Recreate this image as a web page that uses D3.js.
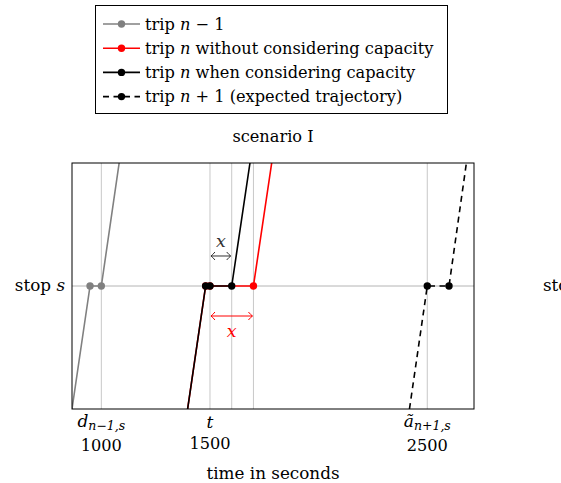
<!DOCTYPE html>
<html>
<head>
<meta charset="utf-8">
<script src="https://cdn.jsdelivr.net/npm/d3@7"></script>
<style>
body{margin:0;background:#fff;}
text{font-family:"DejaVu Serif",serif;}
.math{font-style:italic;}
</style>
</head>
<body>
<svg id="chart"></svg>
<script>
const width=561;
const height=483;

// trajectories: [time, position]  (-1 = before stop, 0 = stop s, 1 = after stop)
const tripPrev=[[865,-1],[948,0],[1000,0],[1082,1]];
const tripPrevDots=[948,1000];
const tripNoCap=[[1397,-1],[1480,0],[1500,0],[1700,0],[1784,1]];
const tripNoCapDots=[1480,1500,1700];
const tripCap=[[1397,-1],[1480,0],[1500,0],[1600,0],[1684,1]];
const tripCapDots=[1480,1500,1600];
const tripNext=[[2418,-1],[2500,0],[2600,0],[2680,1]];
const tripNextDots=[2500,2600];

const gridTimes=[1000,1500,1600,1700,2500];
const tickValues=[1000,1500,2500];
const tickLabels=['1000','1500','2500'];

const legendLabels=['trip n − 1','trip n without considering capacity','trip n when considering capacity','trip n + 1 (expected trajectory)'];

const margin={left:72,right:87,top:163,bottom:74};
const fs=16.2;

const svg=d3.select('#chart')
  .attr('width',width)
  .attr('height',height);

const x=d3.scaleLinear()
  .domain([865,2715])
  .range([margin.left,width-margin.right]);

const y=d3.scaleLinear()
  .domain([-1,1])
  .range([height-margin.bottom,margin.top]);

const defs=svg.append('defs');
defs.append('clipPath').attr('id','plotclip')
  .append('rect')
  .attr('x',x.range()[0]).attr('y',y.range()[1])
  .attr('width',x.range()[1]-x.range()[0])
  .attr('height',y.range()[0]-y.range()[1]);

function arrowMarker(id,color){
  defs.append('marker')
    .attr('id',id)
    .attr('viewBox','-6 -6 12 12')
    .attr('refX',0).attr('refY',0)
    .attr('markerWidth',12).attr('markerHeight',12)
    .attr('markerUnits','userSpaceOnUse')
    .attr('orient','auto-start-reverse')
    .append('path')
    .attr('d','M-4,-4 Q-1.5,-1 0,0 Q-1.5,1 -4,4')
    .attr('fill','none')
    .attr('stroke',color)
    .attr('stroke-width',1);
}
arrowMarker('arrBlack','#333');
arrowMarker('arrRed','red');

// grid
svg.append('g').selectAll('line')
  .data(gridTimes)
  .enter().append('line')
  .attr('x1',d=>x(d)).attr('x2',d=>x(d))
  .attr('y1',y(-1)).attr('y2',y(1))
  .attr('stroke','#c8c8c8')
  .attr('stroke-width',1);

svg.append('line')
  .attr('x1',x.range()[0]).attr('x2',x.range()[1])
  .attr('y1',y(0)).attr('y2',y(0))
  .attr('stroke','#b4b4b4')
  .attr('stroke-width',1);

const line=d3.line().x(d=>x(d[0])).y(d=>y(d[1]));
const plot=svg.append('g').attr('clip-path','url(#plotclip)');

function drawTrip(pts,dots,color,dash){
  plot.append('path')
    .datum(pts)
    .attr('d',line)
    .attr('fill','none')
    .attr('stroke',color)
    .attr('stroke-width',1.6)
    .attr('stroke-dasharray',dash||null);
  plot.selectAll(null)
    .data(dots)
    .enter().append('circle')
    .attr('cx',d=>x(d))
    .attr('cy',y(0))
    .attr('r',3.7)
    .attr('fill',color);
}

drawTrip(tripPrev,tripPrevDots,'gray');
drawTrip(tripNoCap,tripNoCapDots,'red');
drawTrip(tripCap,tripCapDots,'black');
drawTrip(tripNext,tripNextDots,'black','6,4.5');

// frame
svg.append('rect')
  .attr('x',x.range()[0]).attr('y',y.range()[1])
  .attr('width',x.range()[1]-x.range()[0])
  .attr('height',y.range()[0]-y.range()[1])
  .attr('fill','none')
  .attr('stroke','black')
  .attr('stroke-width',1);

// x annotations
const annotations=[{from:1500,to:1600,pos:0.244,lab:0.36,color:'#333',marker:'arrBlack'},
                   {from:1500,to:1700,pos:-0.244,lab:-0.37,color:'red',marker:'arrRed'}];
annotations.forEach(a=>{
  svg.append('line')
    .attr('x1',x(a.from)+1).attr('x2',x(a.to)-1)
    .attr('y1',y(a.pos)).attr('y2',y(a.pos))
    .attr('stroke',a.color)
    .attr('stroke-width',1)
    .attr('marker-start','url(#'+a.marker+')')
    .attr('marker-end','url(#'+a.marker+')');
  svg.append('text')
    .attr('class','math')
    .attr('x',(x(a.from)+x(a.to))/2)
    .attr('y',y(a.lab)+5)
    .attr('text-anchor','middle')
    .attr('font-size',17.5)
    .attr('fill',a.color)
    .text('x');
});

// x tick labels
const mathLabels=[{base:'d',sub:'n−1,s',y:427},{base:'t',sub:'',y:428},{base:'ã',sub:'n+1,s',y:427}];
const numY=[451,449,451];
tickValues.forEach((v,i)=>{
  const t=svg.append('text')
    .attr('class','math')
    .attr('x',x(v))
    .attr('y',mathLabels[i].y)
    .attr('text-anchor','middle')
    .attr('font-size',17);
  t.append('tspan').text(mathLabels[i].base);
  if(mathLabels[i].sub){
    t.append('tspan').attr('dy',3).attr('font-size',12.5).text(mathLabels[i].sub);
  }
  svg.append('text')
    .attr('x',x(v))
    .attr('y',numY[i])
    .attr('text-anchor','middle')
    .attr('font-size',fs)
    .text(tickLabels[i]);
});

svg.append('text')
  .attr('x',(x.range()[0]+x.range()[1])/2)
  .attr('y',479)
  .attr('text-anchor','middle')
  .attr('font-size',fs+0.6)
  .text('time in seconds');

svg.append('text')
  .attr('x',(x.range()[0]+x.range()[1])/2)
  .attr('y',142)
  .attr('text-anchor','middle')
  .attr('font-size',fs)
  .text('scenario I');

// stop labels (second one belongs to the next panel, cut off)
[{x:65,anchor:'end'},{x:543,anchor:'start'}].forEach(s=>{
  const t=svg.append('text')
    .attr('x',s.x)
    .attr('y',y(0)+5)
    .attr('text-anchor',s.anchor)
    .attr('font-size',fs+0.6);
  t.append('tspan').text('stop ');
  t.append('tspan').attr('class','math').text('s');
});

// legend
const legend=svg.append('g');
legend.append('rect')
  .attr('x',95.5).attr('y',5.5)
  .attr('width',352).attr('height',108)
  .attr('fill','white')
  .attr('stroke','black')
  .attr('stroke-width',1);

const legendColors=['gray','red','black','black'];
const legendDash=[null,null,null,'6,4.5'];
const legendElem=legend.selectAll('g')
  .data(legendLabels)
  .enter().append('g')
  .attr('transform',(d,i)=>'translate(0,'+(24+i*24.2)+')');

legendElem.append('line')
  .attr('x1',103).attr('x2',140)
  .attr('stroke',(d,i)=>legendColors[i])
  .attr('stroke-width',1.6)
  .attr('stroke-dasharray',(d,i)=>legendDash[i]);
legendElem.append('circle')
  .attr('cx',121.5).attr('r',3.7)
  .attr('fill',(d,i)=>legendColors[i]);

legendElem.append('text')
  .attr('x',145)
  .attr('y',5.5)
  .attr('font-size',fs)
  .each(function(d){
    const parts=d.split(' n');
    const t=d3.select(this);
    t.append('tspan').text(parts[0]+' ');
    t.append('tspan').attr('class','math').text('n');
    t.append('tspan').text(parts[1]);
  });
</script>
</body>
</html>
